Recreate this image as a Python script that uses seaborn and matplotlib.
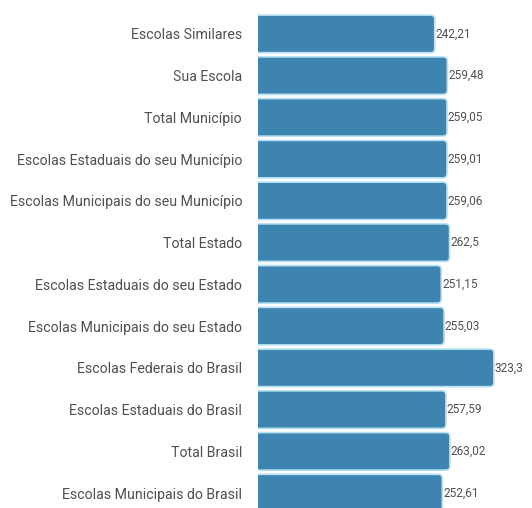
import matplotlib
matplotlib.use("Agg")
import matplotlib.pyplot as plt
import seaborn as sns
import pandas as pd
from matplotlib.patches import FancyBboxPatch
from matplotlib import font_manager

categories = [
    "Escolas Similares",
    "Sua Escola",
    "Total Município",
    "Escolas Estaduais do seu Município",
    "Escolas Municipais do seu Município",
    "Total Estado",
    "Escolas Estaduais do seu Estado",
    "Escolas Municipais do seu Estado",
    "Escolas Federais do Brasil",
    "Escolas Estaduais do Brasil",
    "Total Brasil",
    "Escolas Municipais do Brasil",
]
values = [242.21, 259.48, 259.05, 259.01, 259.06, 262.5, 251.15, 255.03, 323.3, 257.59, 263.02, 252.61]
value_labels = ["242,21", "259,48", "259,05", "259,01", "259,06", "262,5",
                "251,15", "255,03", "323,3", "257,59", "263,02", "252,61"]

sns.set_style("white")
names = {f.name for f in font_manager.fontManager.ttflist}
fam = "Liberation Sans Narrow" if "Liberation Sans Narrow" in names else "Roboto"
plt.rcParams["font.family"] = [fam, "DejaVu Sans"]

df = pd.DataFrame({"cat": categories, "val": values})

fig = plt.figure(figsize=(5.32, 5.08), dpi=100)
ax = fig.add_axes([258 / 532, -6 / 508, 270 / 532, 501 / 508])
sns.barplot(data=df, x="val", y="cat", color="#3d85b0", width=0.9, ax=ax, saturation=1)

ax.set_xlim(0, 370)
ax.set_ylim(11.5, -0.5)

# replace bars with rounded ones
bars = list(ax.patches)
for i, p in enumerate(bars):
    y0 = p.get_y()
    w, h = p.get_width(), p.get_height()
    p.remove()
    fb = FancyBboxPatch((-20, y0), w + 20, h,
                        boxstyle="round,pad=0,rounding_size=5.5",
                        mutation_aspect=0.0175,
                        facecolor="#3d85b0", edgecolor="#b9e3f5", linewidth=1.2,
                        clip_on=True)
    ax.add_patch(fb)
    ax.text(w + 1.0, y0 + h / 2, value_labels[i], va="center", ha="left",
            fontsize=8.5, color="#505050")

ax.set_xlabel("")
ax.set_ylabel("")
ax.set_xticks([])
ax.tick_params(axis="y", length=0, pad=11.5, labelsize=10.2, labelcolor="#505050")
for s in ax.spines.values():
    s.set_visible(False)

fig.savefig("out.png", dpi=100)
